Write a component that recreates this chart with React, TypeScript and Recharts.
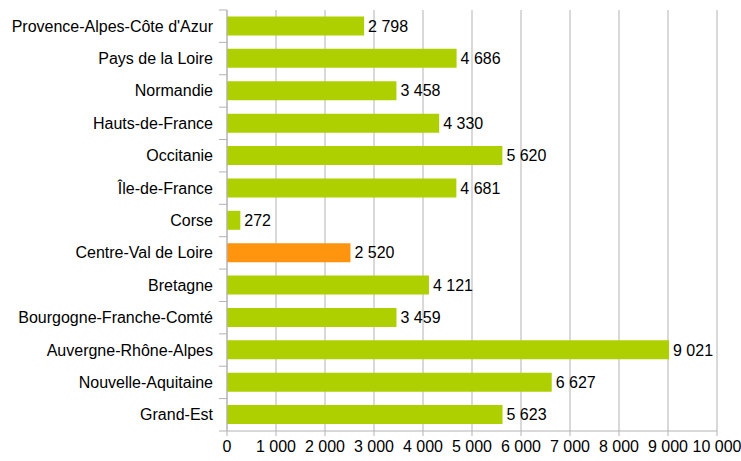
import React from "react";
import { BarChart, Bar, Cell, XAxis, YAxis, CartesianGrid, LabelList } from "recharts";

const regions = [
  "Provence-Alpes-Côte d'Azur",
  "Pays de la Loire",
  "Normandie",
  "Hauts-de-France",
  "Occitanie",
  "Île-de-France",
  "Corse",
  "Centre-Val de Loire",
  "Bretagne",
  "Bourgogne-Franche-Comté",
  "Auvergne-Rhône-Alpes",
  "Nouvelle-Aquitaine",
  "Grand-Est",
];
const values = [2798, 4686, 3458, 4330, 5620, 4681, 272, 2520, 4121, 3459, 9021, 6627, 5623];
const highlighted = "Centre-Val de Loire";
const xTicks = [0, 1000, 2000, 3000, 4000, 5000, 6000, 7000, 8000, 9000, 10000];

const data = regions.map((name, i) => ({ name, value: values[i] }));

const W = 741;
const H = 461;
const LEFT = 227;
const TOP = 10;
const XH = 30;
const RIGHT = 24;
const band = (H - TOP - XH) / regions.length;
const font = "'Liberation Sans', Arial, sans-serif";
const FS = 16;

const fmt = (v: number) => String(v).replace(/\B(?=(\d{3})+(?!\d))/g, " ");

const YTick = (props: any) => {
  const { y, payload, index } = props;
  const top = y - band / 2;
  return (
    <g>
      <line x1={LEFT - 8} x2={LEFT} y1={top} y2={top} stroke="#b3b3b3" />
      {index === regions.length - 1 && (
        <line x1={LEFT - 8} x2={LEFT} y1={top + band} y2={top + band} stroke="#b3b3b3" />
      )}
      <text x={LEFT - 14} y={y} dy={5.5} textAnchor="end" fontSize={FS} fill="#000" fontFamily={font}>
        {payload.value}
      </text>
    </g>
  );
};

export default function App() {
  return (
    <>
      <style>{"body{margin:0}"}</style>
      <BarChart
        width={W}
        height={H}
        data={data}
        layout="vertical"
        margin={{ top: TOP, right: RIGHT, bottom: 0, left: 0 }}
        barCategoryGap="20%"
        style={{ fontFamily: font }}
      >
        <CartesianGrid horizontal={false} stroke="#b3b3b3" />
        <XAxis
          type="number"
          domain={[0, 10000]}
          ticks={xTicks}
          interval={0}
          height={XH}
          tickFormatter={fmt}
          stroke="#b3b3b3"
          tickSize={5}
          tickMargin={5}
          tick={{ fill: "#000", fontSize: FS, fontFamily: font }}
        />
        <YAxis
          type="category"
          dataKey="name"
          width={LEFT}
          interval={0}
          stroke="#b3b3b3"
          tickLine={false}
          tick={<YTick />}
        />
        <Bar dataKey="value" isAnimationActive={false}>
          {data.map((d) => (
            <Cell key={d.name} fill={d.name === highlighted ? "#ff950e" : "#aecf00"} />
          ))}
          <LabelList
            dataKey="value"
            position="right"
            offset={4}
            formatter={(v: any) => fmt(Number(v))}
            style={{ fill: "#000", fontSize: FS, fontFamily: font }}
          />
        </Bar>
      </BarChart>
    </>
  );
}
